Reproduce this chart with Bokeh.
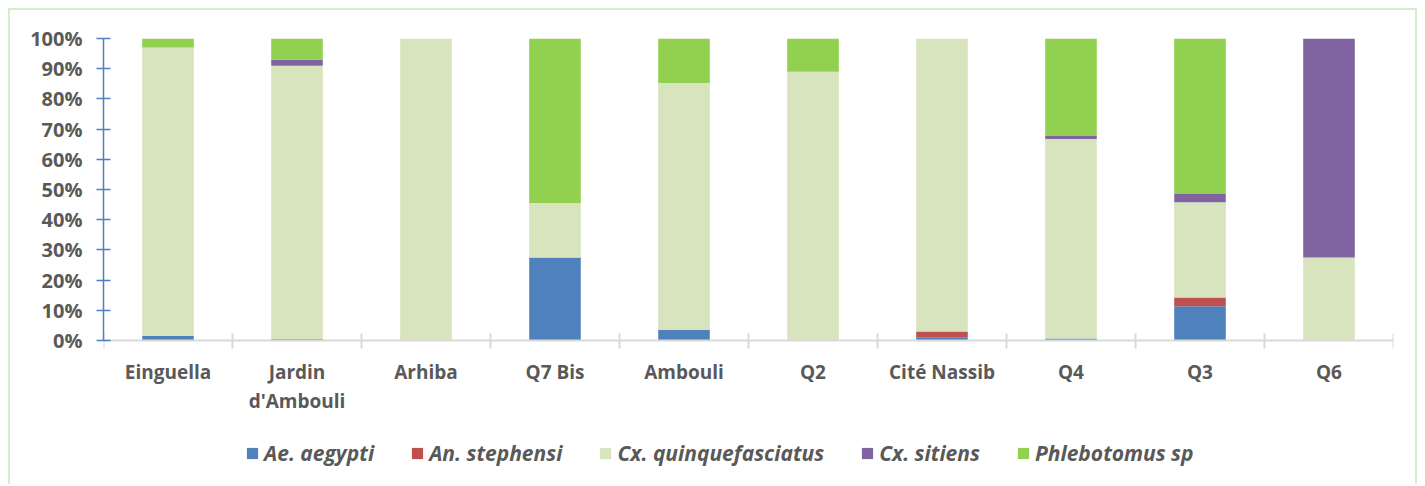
from bokeh.plotting import figure
from bokeh.models import Range1d, FixedTicker, NumeralTickFormatter, Legend, LegendItem, ColumnDataSource
from bokeh.embed import file_html
from bokeh.resources import INLINE

sites = ["Einguella", "Jardin\nd'Ambouli", "Arhiba", "Q7 Bis", "Ambouli", "Q2",
         "Cité Nassib", "Q4", "Q3", "Q6"]
species = ["Ae. aegypti", "An. stephensi", "Cx. quinquefasciatus", "Cx. sitiens", "Phlebotomus sp"]

ae_aegypti = [1.5, 0.3, 0.0, 27.5, 3.5, 0.0, 1.1, 0.7, 11.3, 0.0]
an_stephensi = [0.0, 0.2, 0.0, 0.0, 0.0, 0.0, 1.9, 0.0, 2.9, 0.0]
cx_quinquefasciatus = [95.5, 90.5, 100.0, 18.0, 81.8, 89.0, 97.0, 66.0, 31.6, 27.5]
cx_sitiens = [0.0, 2.0, 0.0, 0.0, 0.0, 0.0, 0.0, 1.0, 2.7, 72.5]
phlebotomus_sp = [3.0, 7.0, 0.0, 54.5, 14.7, 11.0, 0.0, 32.3, 51.5, 0.0]

y_ticks = [i / 10 for i in range(11)]
colors = ["#4F81BD", "#C0504D", "#D7E4BD", "#8064A2", "#92D050"]

keys = ["ae", "an", "cxq", "cxs", "ph"]
series = [ae_aegypti, an_stephensi, cx_quinquefasciatus, cx_sitiens, phlebotomus_sp]
centers = [i + 0.5 for i in range(len(sites))]
data = {"x": centers}
for k, s in zip(keys, series):
    data[k] = [v / 100 for v in s]
source = ColumnDataSource(data)

# geometry (pixels inside the canvas)
W, H = 1409, 476
top, left, right = 28, 93, 26
zero_px = 330            # y pixel of 0 %
frame_h = H - top        # frame reaches the canvas bottom
unit = zero_px - top     # pixels for 100 %
y_start = -(frame_h - unit) / unit

p = figure(width=W, height=H, output_backend="svg", toolbar_location=None,
           x_range=Range1d(0, len(sites)), y_range=Range1d(y_start, 1),
           min_border_left=left, min_border_right=right, min_border_top=top, min_border_bottom=0)
p.styles = {"border-top": "2px solid #D5EDC8", "border-left": "2px solid #D5EDC8",
            "border-right": "2px solid #D5EDC8", "margin-left": "8px", "margin-top": "8px"}
p.outline_line_color = None
p.grid.visible = False

renderers = p.vbar_stack(keys, x="x", width=0.4, color=colors, line_color=None, source=source)

font = "Open Sans"
tick_color = "#595959"

# y axis
ya = p.yaxis[0]
ya.bounds = (0, 1)
ya.ticker = FixedTicker(ticks=y_ticks)
ya.formatter = NumeralTickFormatter(format="0%")
ya.axis_line_color = "#4F81BD"
ya.axis_line_width = 1.5
ya.major_tick_line_color = "#4F81BD"
ya.major_tick_line_width = 1.5
ya.major_tick_in = 7
ya.major_tick_out = 7
ya.minor_tick_line_color = None
ya.major_label_standoff = 14
ya.major_label_text_font = font
ya.major_label_text_font_style = "bold"
ya.major_label_text_font_size = "20px"
ya.major_label_text_color = tick_color

# x axis, drawn at 0 %
xa = p.xaxis[0]
xa.fixed_location = 0
xa.ticker = FixedTicker(ticks=centers, minor_ticks=list(range(len(sites) + 1)))
xa.major_label_overrides = {c: s for c, s in zip(centers, sites)}
xa.axis_line_color = "#D9D9D9"
xa.axis_line_width = 2
xa.major_tick_line_color = None
xa.major_tick_in = 0
xa.major_tick_out = 0
xa.minor_tick_line_color = "#D9D9D9"
xa.minor_tick_line_width = 2
xa.minor_tick_in = 7
xa.minor_tick_out = 8
xa.major_label_standoff = 10
xa.major_label_text_font = font
xa.major_label_text_font_style = "bold"
xa.major_label_text_font_size = "19px"
xa.major_label_text_color = tick_color
xa.major_label_text_line_height = 1.12

items = [LegendItem(label=s, renderers=[r]) for s, r in zip(species, renderers)]
legend = Legend(items=items, orientation="horizontal", location=(142, 19))
legend.border_line_color = None
legend.background_fill_alpha = 0
legend.padding = 0
legend.margin = 0
legend.spacing = 36
legend.glyph_width = 14
legend.glyph_height = 14
legend.label_standoff = 5
legend.label_text_font = font
legend.label_text_font_style = "bold italic"
legend.label_text_font_size = "21px"
legend.label_text_color = tick_color
p.add_layout(legend, "center")

open("out.html", "w").write(file_html(p, INLINE))
